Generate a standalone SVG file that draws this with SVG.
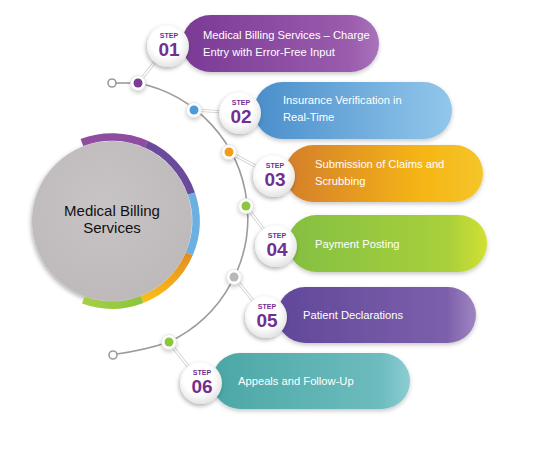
<svg xmlns="http://www.w3.org/2000/svg" width="540" height="450" viewBox="0 0 540 450">
<defs>
<filter id="sh" x="-20%" y="-20%" width="140%" height="160%"><feDropShadow dx="0" dy="2" stdDeviation="2" flood-color="#000" flood-opacity="0.22"/></filter>
<filter id="shb" x="-40%" y="-40%" width="180%" height="180%"><feDropShadow dx="-1" dy="2" stdDeviation="2.2" flood-color="#000" flood-opacity="0.3"/></filter>
<radialGradient id="gBadge" cx="0.45" cy="0.4" r="0.6"><stop offset="0.6" stop-color="#ffffff"/><stop offset="1" stop-color="#e4e4e4"/></radialGradient>
<radialGradient id="gCenter" cx="0.45" cy="0.4" r="0.65"><stop offset="0" stop-color="#c8c4c5"/><stop offset="1" stop-color="#bdb8b9"/></radialGradient>
<linearGradient id="g1" x1="0" x2="1"><stop offset="0" stop-color="#7a3a95"/><stop offset="0.85" stop-color="#9a5cad"/><stop offset="1" stop-color="#a874ba"/></linearGradient>
<linearGradient id="g2" x1="0" x2="1"><stop offset="0" stop-color="#4a8ecb"/><stop offset="1" stop-color="#92c7eb"/></linearGradient>
<linearGradient id="g3" x1="0" x2="1"><stop offset="0" stop-color="#d47e2b"/><stop offset="0.7" stop-color="#f6b616"/><stop offset="1" stop-color="#f4c52a"/></linearGradient>
<linearGradient id="g4" x1="0" x2="1"><stop offset="0" stop-color="#84bf43"/><stop offset="0.8" stop-color="#a8d03a"/><stop offset="1" stop-color="#d2df33"/></linearGradient>
<linearGradient id="g5" x1="0" x2="1"><stop offset="0" stop-color="#614899"/><stop offset="0.85" stop-color="#7c5fab"/><stop offset="1" stop-color="#9f86c1"/></linearGradient>
<linearGradient id="g6" x1="0" x2="1"><stop offset="0" stop-color="#4ba7a5"/><stop offset="0.85" stop-color="#6dbcbe"/><stop offset="1" stop-color="#8ccdd3"/></linearGradient>
<linearGradient id="gOr" x1="0" y1="0" x2="0" y2="1"><stop offset="0" stop-color="#e38d24"/><stop offset="1" stop-color="#fbbb17"/></linearGradient>
<linearGradient id="gGr" x1="1" y1="0" x2="0" y2="0"><stop offset="0" stop-color="#8cc53f"/><stop offset="1" stop-color="#a6cf45"/></linearGradient>
<style>
.pill{filter:url(#sh)}
.pt{font-family:"Liberation Sans",Arial,sans-serif;font-size:11.2px;fill:#ffffff}
.badge{fill:url(#gBadge);filter:url(#shb)}
.st{font-family:"Liberation Sans",Arial,sans-serif;font-weight:bold;fill:#722f90;text-anchor:middle}
.s1{font-size:7px}
.s2{font-size:19px}
.arc{fill:none;stroke:#9d9a9b;stroke-width:1.6}
.lk{stroke:#cfcfcf;stroke-width:3.2;stroke-linecap:round}
.lkw{stroke:#ffffff;stroke-width:1.6;stroke-linecap:round}
.halo{fill:#ffffff;stroke:#e0e0e0;stroke-width:0.8;filter:url(#sh)}
.endr{fill:#ffffff;stroke:#9d9a9b;stroke-width:1.6}
.ring{fill:none;stroke-width:7.5}
</style>
</defs>
<rect width="540" height="450" fill="#ffffff"/>

<g id="center">
<circle cx="112" cy="221" r="80" fill="url(#gCenter)" filter="url(#shb)"/>
<path class="ring" stroke="#8e4da0" d="M81.9,142.6 A84,84 0 0 1 146.2,144.2"/>
<path class="ring" stroke="#6a4a9b" d="M146.2,144.2 A84,84 0 0 1 191.4,193.6"/>
<path class="ring" stroke="#6cb0e1" d="M191.4,193.6 A84,84 0 0 1 189.3,253.8"/>
<path class="ring" stroke="url(#gOr)" d="M189.3,253.8 A84,84 0 0 1 142.1,299.4"/>
<path class="ring" stroke="url(#gGr)" d="M142.1,299.4 A84,84 0 0 1 83.3,300.0"/>
<text x="112" y="216" font-family="Liberation Sans,Arial,sans-serif" font-size="15" fill="#111111" text-anchor="middle">Medical Billing</text>
<text x="112" y="233" font-family="Liberation Sans,Arial,sans-serif" font-size="15" fill="#111111" text-anchor="middle">Services</text>
</g>

<g id="connectors">
<path class="arc" d="M138,83 A137.5,137.5 0 0 1 169,342"/>
<path class="arc" d="M116,83 L138,83"/>
<path class="arc" d="M117,354 Q145,350 169,342"/>
<circle class="endr" cx="112" cy="83" r="4"/>
<circle class="endr" cx="113" cy="355" r="4"/>
<line class="lk" x1="138" y1="83" x2="168" y2="46"/><line class="lkw" x1="138" y1="83" x2="168" y2="46"/>
<line class="lk" x1="194" y1="110" x2="240" y2="113"/><line class="lkw" x1="194" y1="110" x2="240" y2="113"/>
<line class="lk" x1="229" y1="152" x2="274" y2="176"/><line class="lkw" x1="229" y1="152" x2="274" y2="176"/>
<line class="lk" x1="246" y1="206" x2="276" y2="246"/><line class="lkw" x1="246" y1="206" x2="276" y2="246"/>
<line class="lk" x1="234" y1="277" x2="266" y2="317"/><line class="lkw" x1="234" y1="277" x2="266" y2="317"/>
<line class="lk" x1="169" y1="342" x2="201" y2="383"/><line class="lkw" x1="169" y1="342" x2="201" y2="383"/>
<circle class="halo" cx="138" cy="83" r="7.5"/><circle cx="138" cy="83" r="4.5" fill="#7b3a94"/>
<circle class="halo" cx="194" cy="110" r="7.5"/><circle cx="194" cy="110" r="4.5" fill="#4d9ad6"/>
<circle class="halo" cx="229" cy="152" r="7.5"/><circle cx="229" cy="152" r="4.5" fill="#f29d18"/>
<circle class="halo" cx="246" cy="206" r="7.5"/><circle cx="246" cy="206" r="4.5" fill="#8cc63e"/>
<circle class="halo" cx="234" cy="277" r="7.5"/><circle cx="234" cy="277" r="4.5" fill="#b9b7b8"/>
<circle class="halo" cx="169" cy="342" r="7.5"/><circle cx="169" cy="342" r="4.5" fill="#8cc63e"/>
</g>

<g id="step1">
<rect class="pill" x="182" y="15" width="197" height="57" rx="28.5" fill="url(#g1)"/>
<text class="pt" x="203" y="39">Medical Billing Services – Charge</text>
<text class="pt" x="203" y="56">Entry with Error-Free Input</text>
<circle class="badge" cx="168" cy="46" r="21"/>
<text class="st s1" x="169" y="38">STEP</text>
<text class="st s2" x="169" y="56">01</text>
</g>

<g id="step2">
<rect class="pill" x="254" y="82" width="198" height="57" rx="28.5" fill="url(#g2)"/>
<text class="pt" x="283" y="104">Insurance Verification in</text>
<text class="pt" x="283" y="121">Real-Time</text>
<circle class="badge" cx="240" cy="113" r="21"/>
<text class="st s1" x="241" y="105">STEP</text>
<text class="st s2" x="241" y="123">02</text>
</g>

<g id="step3">
<rect class="pill" x="285" y="145" width="198" height="57" rx="28.5" fill="url(#g3)"/>
<text class="pt" x="315" y="167.5">Submission of Claims and</text>
<text class="pt" x="315" y="185">Scrubbing</text>
<circle class="badge" cx="274" cy="176" r="21"/>
<text class="st s1" x="275" y="168">STEP</text>
<text class="st s2" x="275" y="186">03</text>
</g>

<g id="step4">
<rect class="pill" x="288" y="215" width="199" height="57" rx="28.5" fill="url(#g4)"/>
<text class="pt" x="315" y="248">Payment Posting</text>
<circle class="badge" cx="276" cy="246" r="21"/>
<text class="st s1" x="277" y="238">STEP</text>
<text class="st s2" x="277" y="256">04</text>
</g>

<g id="step5">
<rect class="pill" x="277" y="287" width="199" height="56" rx="28" fill="url(#g5)"/>
<text class="pt" x="303" y="319">Patient Declarations</text>
<circle class="badge" cx="266" cy="317" r="21"/>
<text class="st s1" x="267" y="309">STEP</text>
<text class="st s2" x="267" y="327">05</text>
</g>

<g id="step6">
<rect class="pill" x="212" y="353" width="198" height="56" rx="28" fill="url(#g6)"/>
<text class="pt" x="238" y="385">Appeals and Follow-Up</text>
<circle class="badge" cx="201" cy="383" r="21"/>
<text class="st s1" x="202" y="375">STEP</text>
<text class="st s2" x="202" y="393">06</text>
</g>
</svg>
